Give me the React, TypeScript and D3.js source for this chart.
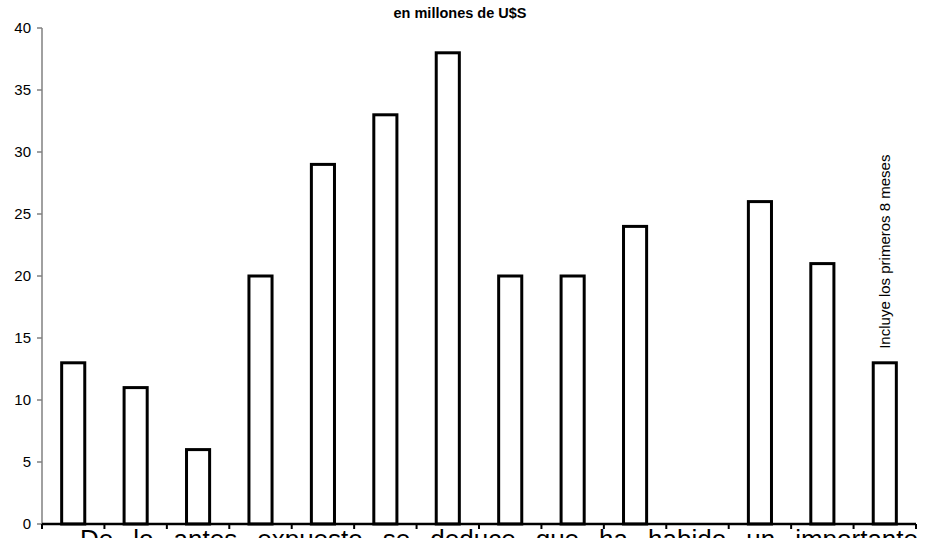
import React, { useEffect, useRef } from "react";
import * as d3 from "d3";

const categories = ["1", "2", "3", "4", "5", "6", "7", "8", "9", "10", "11", "12", "13", "14"];
const values: (number | null)[] = [13, 11, 6, 20, 29, 33, 38, 20, 20, 24, null, 26, 21, 13];
const yTicks = [0, 5, 10, 15, 20, 25, 30, 35, 40];
const title = "en millones de U$S";
const note = "Incluye los primeros 8 meses";
const noteIndex = 13;
const bodyText = "De lo antes expuesto se deduce que ha habido un importante";

const W = 928;
const H = 538;
const left = 42;
const right = 916;
const top = 28;
const bottom = 524;

export default function App() {
  const textRef = useRef<SVGTextElement | null>(null);

  const x = d3.scaleBand<string>().domain(categories).range([left, right]).paddingInner(0.63).paddingOuter(0.315);
  const xStep = d3.scaleBand<string>().domain(categories).range([left, right]).padding(0);
  const y = d3.scaleLinear().domain([0, 40]).range([bottom, top]);

  const boundaries = categories.map((c) => xStep(c) as number).concat([right]);

  useEffect(() => {
    const t = textRef.current;
    if (!t) return;
    const spans = d3.select(t).selectAll<SVGTSpanElement, string>("tspan");
    const widths: number[] = [];
    spans.each(function () {
      widths.push(this.getComputedTextLength());
    });
    const x0 = 80;
    const x1 = 918;
    const total = d3.sum(widths);
    const gap = (x1 - x0 - total) / (widths.length - 1);
    let cx = x0;
    spans.each(function (_d, i) {
      d3.select(this).attr("x", cx);
      cx += widths[i] + gap;
    });
  }, []);

  const words = bodyText.split(" ");

  return (
    <svg width={W} height={H} style={{ position: "absolute", left: 0, top: 0, background: "#fff" }}
      fontFamily="'Liberation Sans', Arial, sans-serif">
      <rect x={0} y={0} width={W} height={H} fill="#fff" />
      <text x={460} y={18} textAnchor="middle" fontWeight="bold" fontSize={14.5} fill="#000">{title}</text>

      {/* y axis */}
      <line x1={left} x2={left} y1={top} y2={bottom} stroke="#808080" strokeWidth={1.5} />
      {yTicks.map((t) => (
        <g key={t}>
          <line x1={left - 5} x2={left} y1={y(t)} y2={y(t)} stroke="#808080" strokeWidth={1.5} />
          <text x={31} y={y(t)} dy="0.35em" textAnchor="end" fontSize={15} fill="#000">{t}</text>
        </g>
      ))}

      {/* bars */}
      {categories.map((c, i) => {
        const v = values[i];
        if (v == null) return null;
        return (
          <rect key={c} x={x(c)} y={y(v)} width={x.bandwidth()} height={y(0) - y(v)}
            fill="#fff" stroke="#000" strokeWidth={3} />
        );
      })}

      {/* x axis */}
      <line x1={left} x2={right} y1={bottom} y2={bottom} stroke="#000" strokeWidth={2.5} />
      {boundaries.map((b, i) => (
        <line key={i} x1={b} x2={b} y1={bottom} y2={bottom + 5} stroke="#000" strokeWidth={2} />
      ))}

      {/* note */}
      <text transform={`translate(${(x(categories[noteIndex]) as number) + x.bandwidth() / 2 + 5},${y(values[noteIndex] as number) - 14}) rotate(-90)`}
        fontSize={15} fill="#000">{note}</text>

      {/* body text */}
      <text ref={textRef} y={548} fontSize={26} fill="#000">
        {words.map((w, i) => (
          <tspan key={i} x={80 + i * 60} y={548}>{w}</tspan>
        ))}
      </text>
    </svg>
  );
}
